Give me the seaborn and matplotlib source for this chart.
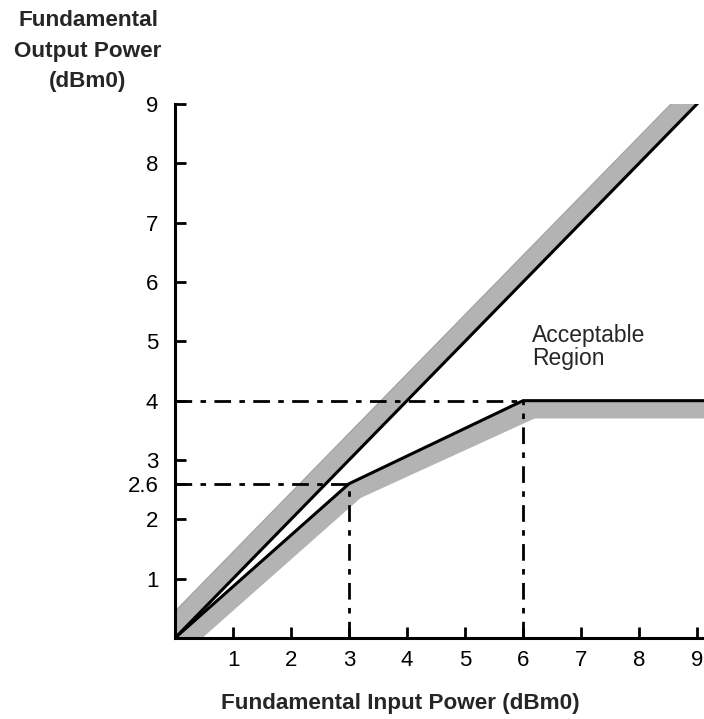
import matplotlib.pyplot as plt
import seaborn as sns

# ideal (black) response lines
ideal_x = [0, 9.5]
ideal_y = [0, 9.5]
limit_x = [0, 3, 6, 9.5]
limit_y = [0, 2.6, 4, 4]

# gray tolerance bands (edge opposite the black line)
ideal_band_x = [9.5, 0]
ideal_band_y = [9.95, 0.45]
limit_band_x = [9.5, 6.2, 3.2, 0.47]
limit_band_y = [3.7, 3.7, 2.36, 0]

# dash-dot guide lines at the knees
knee_x = [3, 6]
knee_y = [2.6, 4]

xticks = [1, 2, 3, 4, 5, 6, 7, 8, 9]
yticks = [1, 2, 2.6, 3, 4, 5, 6, 7, 8, 9]
ytick_labels = ['1', '2', '2.6', '3', '4', '5', '6', '7', '8', '9']

sns.set_style('white')
plt.rcParams['font.family'] = ['Liberation Sans', 'DejaVu Sans']

fig = plt.figure(figsize=(7.04, 7.19), dpi=100)
ax = fig.add_axes([175 / 704, 81 / 719, 529 / 704, 534 / 719])

gray = '#b3b3b3'
ax.fill(ideal_x + ideal_band_x, ideal_y + ideal_band_y, color=gray, lw=0.8, ec='#a0a0a0', zorder=1)
ax.fill(limit_x + limit_band_x, limit_y + limit_band_y, color=gray, lw=0, zorder=1)

sns.lineplot(x=ideal_x, y=ideal_y, ax=ax, color='black', lw=2.2, zorder=3)
sns.lineplot(x=limit_x, y=limit_y, ax=ax, color='black', lw=2.2, zorder=3)

dash = (0, (6, 3, 2, 3))
for kx, ky in zip(knee_x, knee_y):
    ax.plot([0, kx], [ky, ky], color='black', lw=2, linestyle=dash, zorder=2)
    ax.plot([kx, kx], [0, ky], color='black', lw=2, linestyle=dash, zorder=2)

ax.text(6.15, 4.9, 'Acceptable\nRegion', fontsize=16.5, va='center', ha='left', linespacing=1.0)

ax.set_xlim(0, 9.12)
ax.set_ylim(0, 9)
ax.set_xticks(xticks)
ax.set_yticks(yticks)
ax.set_yticklabels(ytick_labels)
ax.tick_params(direction='in', length=8, width=2, labelsize=16, pad=9, colors='black',
               bottom=True, left=True)
ax.tick_params(axis='y', pad=12)

sns.despine(ax=ax)
for side in ['left', 'bottom']:
    ax.spines[side].set_linewidth(2.2)
    ax.spines[side].set_color('black')

fig.text(88 / 704, 1 - 51 / 719, 'Fundamental\nOutput Power\n(dBm0)', ha='center', va='center',
         fontsize=16.2, fontweight='bold', linespacing=1.58)
fig.text(400 / 704, 1 - 704 / 719, 'Fundamental Input Power (dBm0)', ha='center', va='center',
         fontsize=16.2, fontweight='bold')

plt.savefig('out.png', dpi=100)
plt.close()
